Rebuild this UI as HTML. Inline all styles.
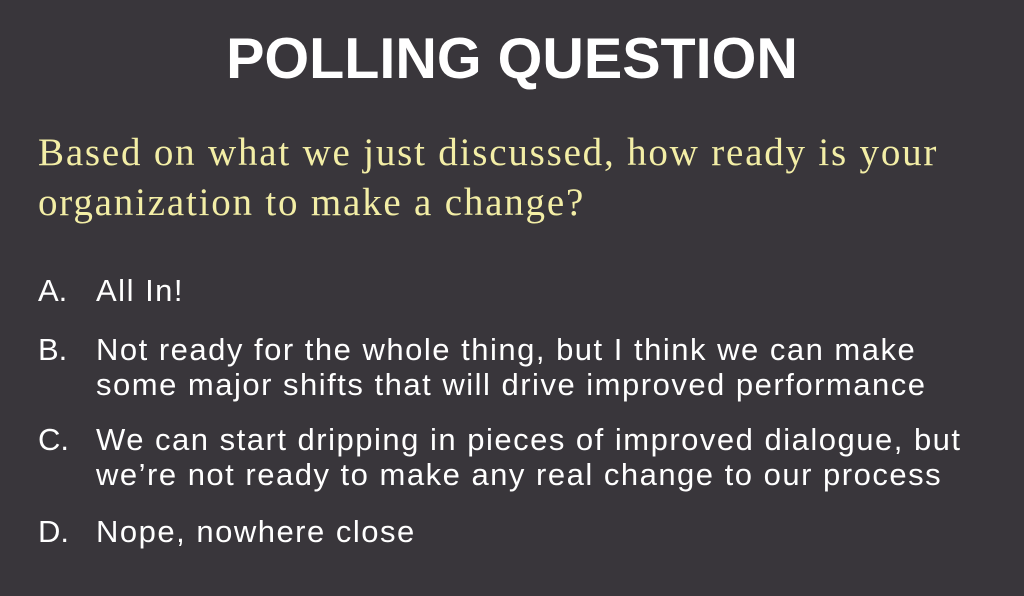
<!DOCTYPE html>
<html><head><style>
html,body{margin:0;padding:0;}
body{width:1024px;height:596px;background:#39363b;overflow:hidden;position:relative;font-family:"Liberation Sans",sans-serif;}
.t{position:absolute;left:0;width:1024px;top:26px;text-align:center;color:#fff;font-weight:bold;font-size:57.5px;line-height:66px;}
.q{position:absolute;left:38px;top:128px;width:986px;color:#f3eea6;font-family:"Liberation Serif",serif;font-size:39px;line-height:50px;letter-spacing:1.8px;white-space:nowrap;}
.it{position:absolute;left:38px;color:#fff;font-size:31px;line-height:35px;white-space:nowrap;}
.it .l{position:absolute;left:0;top:0;}
.it .x{position:absolute;left:58px;top:0;letter-spacing:1.5px;}
</style></head><body>
<div class="t">POLLING QUESTION</div>
<div class="q">Based on what we just discussed, how ready is your<br>organization to make a change?</div>
<div class="it" style="top:273px"><span class="l">A.</span><span class="x">All In!</span></div>
<div class="it" style="top:332px"><span class="l">B.</span><span class="x">Not ready for the whole thing, but I think we can make<br>some major shifts that will drive improved performance</span></div>
<div class="it" style="top:422px"><span class="l">C.</span><span class="x">We can start dripping in pieces of improved dialogue, but<br>we’re not ready to make any real change to our process</span></div>
<div class="it" style="top:514px"><span class="l">D.</span><span class="x">Nope, nowhere close</span></div>
</body></html>
